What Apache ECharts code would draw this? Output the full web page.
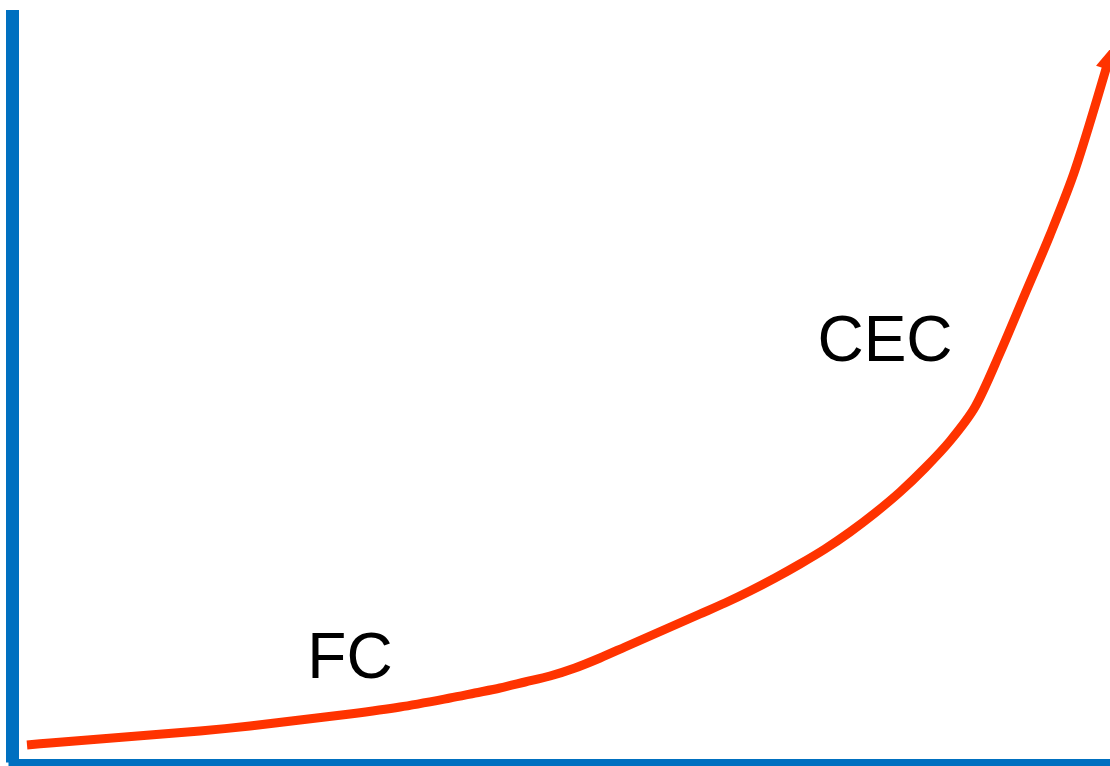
<!DOCTYPE html>
<html>
<head>
<meta charset="utf-8">
<style>
html,body{margin:0;padding:0;background:#fff;}
#chart{width:1110px;height:766px;}
</style>
<script src="https://cdn.jsdelivr.net/npm/echarts@6/dist/echarts.min.js"></script>
</head>
<body>
<div id="chart"></div>
<script>
// Curve (x, y in arbitrary units: x grows right, y grows up)
const curveX = [27, 50, 100, 150, 200, 250, 300, 350, 400, 450, 475, 500, 525, 550, 575, 600, 625, 650, 675, 700, 725, 750, 775, 800, 825, 850, 875, 900, 925, 950, 975, 1000, 1025, 1050, 1075, 1108];
const curveY = [21, 23, 27, 31, 35, 40, 46, 52, 59, 68, 73, 78, 84, 90, 98, 108, 119, 130, 141, 152, 163, 175, 188, 202, 217, 234, 253, 274, 298, 325, 359, 413, 472, 531, 596, 704];
const labelNames = ['FC', 'CEC'];
const labelX = [350, 885];
const labelY = [106, 423];

const chart = echarts.init(document.getElementById('chart'), null, {renderer: 'canvas'});
const data = curveX.map((x, i) => [x, curveY[i]]);
const last = data.length - 1;
const seriesData = data.map((d, i) => i === last ? {
  value: d, symbol: 'triangle', symbolSize: [18, 22], symbolRotate: -18,
  symbolOffset: [0, -4], itemStyle: {color: '#FF3300'}
} : {value: d});

chart.setOption({
  animation: false,
  backgroundColor: '#ffffff',
  grid: {left: 12.5, right: 0, top: 10, bottom: 3.5, containLabel: false},
  xAxis: {
    type: 'value', min: 12.5, max: 1110,
    axisLine: {show: true, onZero: false, lineStyle: {color: '#0070C0', width: 8, cap: 'square'}},
    axisTick: {show: false}, axisLabel: {show: false}, splitLine: {show: false}
  },
  yAxis: {
    type: 'value', min: 3.5, max: 756,
    axisLine: {show: true, onZero: false, lineStyle: {color: '#0070C0', width: 13, cap: 'butt'}},
    axisTick: {show: false}, axisLabel: {show: false}, splitLine: {show: false}
  },
  series: [{
    type: 'line',
    data: seriesData,
    smooth: 0.3,
    showSymbol: true,
    symbol: 'none',
    clip: false,
    lineStyle: {color: '#FF3300', width: 9, cap: 'butt', join: 'round'},
    z: 3,
    markPoint: {
      symbol: 'circle', symbolSize: 1,
      itemStyle: {color: 'rgba(0,0,0,0)'},
      label: {
        show: true, position: 'inside', formatter: p => p.name,
        color: '#000', fontSize: 64, fontFamily: 'Liberation Sans, Arial, sans-serif'
      },
      data: labelNames.map((n, i) => ({name: n, coord: [labelX[i], labelY[i]]}))
    }
  }]
});
</script>
</body>
</html>
